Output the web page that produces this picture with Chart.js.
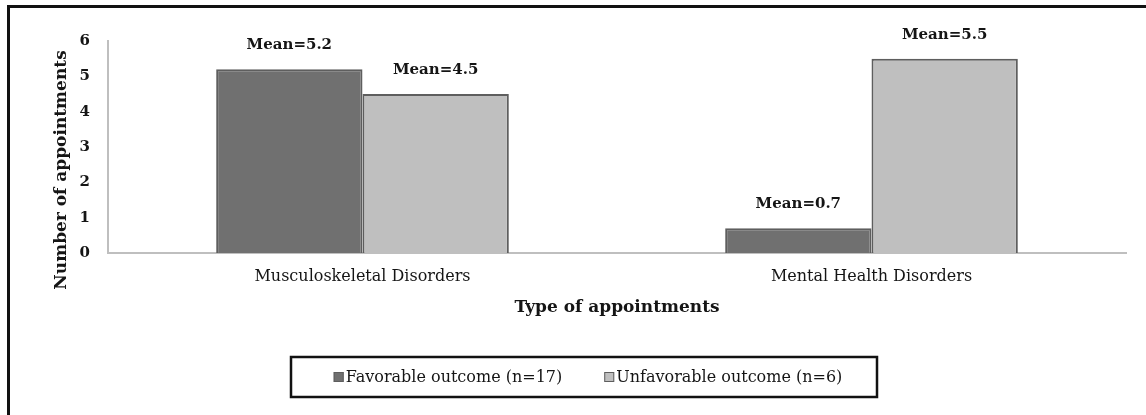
<!DOCTYPE html>
<html>
<head>
<meta charset="utf-8">
<script src="https://cdn.jsdelivr.net/npm/chart.js@4.4.1/dist/chart.umd.min.js"></script>
<style>
  html, body { margin: 0; padding: 0; background: #fff; }
  #wrap { position: relative; width: 1146px; height: 415px; overflow: hidden; }
  #frame { position: absolute; left: 7px; top: 5px; width: 1200px; height: 500px; border: 3px solid #111; box-sizing: border-box; }
  #myChart { position: absolute; left: 0; top: 0; }
</style>
</head>
<body>
<div id="wrap">
  <div id="frame"></div>
  <canvas id="myChart" width="1146" height="415"></canvas>
</div>
<script>
const categories = ['Musculoskeletal Disorders', 'Mental Health Disorders'];
const favorableValues = [5.2, 0.7];
const unfavorableValues = [4.5, 5.5];
const seriesNames = ['Favorable outcome (n=17)', 'Unfavorable outcome (n=6)'];
const yTicks = [0, 1, 2, 3, 4, 5, 6];

const FONT = "'DejaVu Serif', 'Liberation Serif', serif";
const darkFill = '#707070';
const lightFill = '#bfbfbf';
const barEdge = '#5e5e5e';
const textColor = '#151515';

// "Mean=x" above each bar
const meanLabels = {
  id: 'meanLabels',
  afterDatasetsDraw(chart) {
    const ctx = chart.ctx;
    ctx.save();
    ctx.font = 'bold 15px ' + FONT;
    ctx.fillStyle = textColor;
    ctx.textAlign = 'center';
    ctx.textBaseline = 'middle';
    chart.data.datasets.forEach((ds, i) => {
      chart.getDatasetMeta(i).data.forEach((bar, j) => {
        ctx.fillText('Mean=' + ds.data[j], bar.x, bar.y - 24);
      });
    });
    ctx.restore();
  }
};

// y title + boxed legend
const extras = {
  id: 'extras',
  afterDraw(chart) {
    const ctx = chart.ctx;
    ctx.save();
    ctx.font = 'bold 17px ' + FONT;
    ctx.fillStyle = textColor;
    ctx.textAlign = 'center';
    ctx.textBaseline = 'middle';
    ctx.translate(62, 170);
    ctx.rotate(-Math.PI / 2);
    ctx.fillText('Number of appointments', 0, 0);
    ctx.restore();

    const box = { left: 291, top: 357, right: 877, bottom: 397 };
    ctx.save();
    ctx.strokeStyle = '#111';
    ctx.lineWidth = 2.5;
    ctx.strokeRect(box.left, box.top, box.right - box.left, box.bottom - box.top);
    ctx.font = '16px ' + FONT;
    ctx.textBaseline = 'middle';
    ctx.textAlign = 'left';
    const sq = 10, gapSq = 2, gapItem = 42;
    const widths = chart.data.datasets.map(ds => sq + gapSq + ctx.measureText(ds.label).width);
    const total = widths.reduce((a, b) => a + b, 0) + gapItem * (widths.length - 1);
    let x = (box.left + box.right) / 2 - total / 2 + 4;
    const cy = (box.top + box.bottom) / 2;
    chart.data.datasets.forEach((ds, i) => {
      ctx.fillStyle = ds.backgroundColor;
      ctx.fillRect(x, cy - sq / 2, sq, sq);
      ctx.strokeStyle = barEdge;
      ctx.lineWidth = 1;
      ctx.strokeRect(x + 0.5, cy - sq / 2 + 0.5, sq - 1, sq - 1);
      ctx.fillStyle = textColor;
      ctx.fillText(ds.label, x + sq + gapSq, cy + 1);
      x += widths[i] + gapItem;
    });
    ctx.restore();
  }
};

const data = {
  labels: categories,
  datasets: [
    {
      label: seriesNames[0],
      data: favorableValues,
      backgroundColor: darkFill,
      borderColor: barEdge,
      borderWidth: 2
    },
    {
      label: seriesNames[1],
      data: unfavorableValues,
      backgroundColor: lightFill,
      borderColor: barEdge,
      borderWidth: 2
    }
  ]
};

const config = {
  type: 'bar',
  data: data,
  options: {
    responsive: false,
    animation: false,
    datasets: { bar: { categoryPercentage: 0.575, barPercentage: 1 } },
    layout: { padding: { left: 0, right: 20, top: 41, bottom: 82 } },
    plugins: {
      legend: { display: false },
      tooltip: { enabled: false }
    },
    scales: {
      x: {
        grid: { display: false, drawTicks: false },
        border: { display: true, color: '#bfbfbf', width: 2 },
        ticks: { padding: 14, color: textColor, font: { family: FONT, size: 16 } },
        title: {
          display: true,
          text: 'Type of appointments',
          color: textColor,
          font: { family: FONT, size: 17, weight: 'bold' },
          padding: { top: 0, bottom: 15 }
        },
        afterFit(scale) { scale.height = 80; }
      },
      y: {
        min: 0,
        max: 6,
        grid: { display: false, drawTicks: false },
        border: { display: true, color: '#bfbfbf', width: 2 },
        afterBuildTicks(scale) { scale.ticks = yTicks.map(v => ({ value: v })); },
        ticks: { padding: 18, color: textColor, font: { family: FONT, size: 15, weight: 'bold' } },
        afterFit(scale) { scale.width = 108; }
      }
    }
  },
  plugins: [meanLabels, extras]
};

new Chart(document.getElementById('myChart'), config);
</script>
</body>
</html>
